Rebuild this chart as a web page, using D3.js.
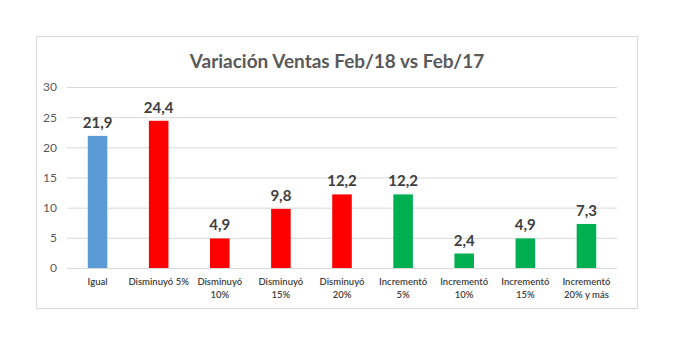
<!DOCTYPE html>
<html>
<head>
<meta charset="utf-8">
<script src="https://cdn.jsdelivr.net/npm/d3@7"></script>
<style>
  body { margin: 0; background: #fff; }
  text { font-family: Lato, "Open Sans", sans-serif; }
</style>
</head>
<body>
<div id="chart-area"></div>
<script>
var categories = ["Igual", "Disminuyó 5%", "Disminuyó|10%", "Disminuyó|15%", "Disminuyó|20%",
                  "Incrementó|5%", "Incrementó|10%", "Incrementó|15%", "Incrementó|20% y más"];
var values = [21.9, 24.4, 4.9, 9.8, 12.2, 12.2, 2.4, 4.9, 7.3];
var groups = ["igual", "menos", "menos", "menos", "menos", "mas", "mas", "mas", "mas"];
var yTicks = [0, 5, 10, 15, 20, 25, 30];

var colors = { igual: "#5B9BD5", menos: "#FF0000", mas: "#00B050" };

var W = 674, H = 353;
var margin = { top: 87, right: 57, bottom: 85, left: 67 },
    width = W - margin.left - margin.right,
    height = H - margin.top - margin.bottom;

var svg = d3.select("#chart-area").append("svg")
    .attr("width", W)
    .attr("height", H);

// chart frame
svg.append("rect")
    .attr("x", 36.5).attr("y", 36.5)
    .attr("width", 601).attr("height", 272)
    .attr("fill", "#fff")
    .attr("stroke", "#D9D9D9");

svg.append("text")
    .attr("x", 337).attr("y", 68)
    .attr("text-anchor", "middle")
    .attr("fill", "#595959")
    .style("font-size", "19px")
    .style("font-weight", "bold")
    .text("Variación Ventas Feb/18 vs Feb/17");

var g = svg.append("g")
    .attr("transform", "translate(" + margin.left + ", " + margin.top + ")");

var x = d3.scaleBand().domain(categories).range([0, width]).paddingInner(0.68).paddingOuter(0.34);
var y = d3.scaleLinear().domain([0, 30]).range([height, 0]);

// gridlines + y labels
var yAxis = g.append("g")
    .call(d3.axisLeft(y).tickValues(yTicks).tickSize(-width).tickPadding(10));
yAxis.select(".domain").remove();
yAxis.selectAll(".tick line").attr("stroke", "#D9D9D9");
yAxis.selectAll(".tick text")
    .attr("fill", "#595959")
    .style("font-size", "12px");

g.selectAll("rect.bar")
    .data(values)
  .enter().append("rect")
    .attr("class", "bar")
    .attr("x", (d, i) => x(categories[i]))
    .attr("y", (d) => y(d))
    .attr("width", x.bandwidth())
    .attr("height", (d) => height - y(d))
    .attr("fill", (d, i) => colors[groups[i]]);

g.selectAll("text.val")
    .data(values)
  .enter().append("text")
    .attr("class", "val")
    .attr("x", (d, i) => x(categories[i]) + x.bandwidth() / 2)
    .attr("y", (d) => y(d) - 8)
    .attr("text-anchor", "middle")
    .attr("fill", "#404040")
    .style("font-size", "15px")
    .style("font-weight", "bold")
    .text((d) => d3.format(".1f")(d).replace(".", ","));

// category labels
var cat = g.selectAll("text.cat")
    .data(categories)
  .enter().append("text")
    .attr("class", "cat")
    .attr("x", (d) => x(d) + x.bandwidth() / 2)
    .attr("y", height + 17)
    .attr("text-anchor", "middle")
    .attr("fill", "#404040")
    .style("font-size", "9.5px")
    .style("font-weight", "600");

cat.each(function (d) {
    d.split("|").forEach((line, j) => {
        d3.select(this).append("tspan")
            .attr("x", x(d) + x.bandwidth() / 2)
            .attr("dy", j === 0 ? 0 : 12.5)
            .text(line);
    });
});
</script>
</body>
</html>
